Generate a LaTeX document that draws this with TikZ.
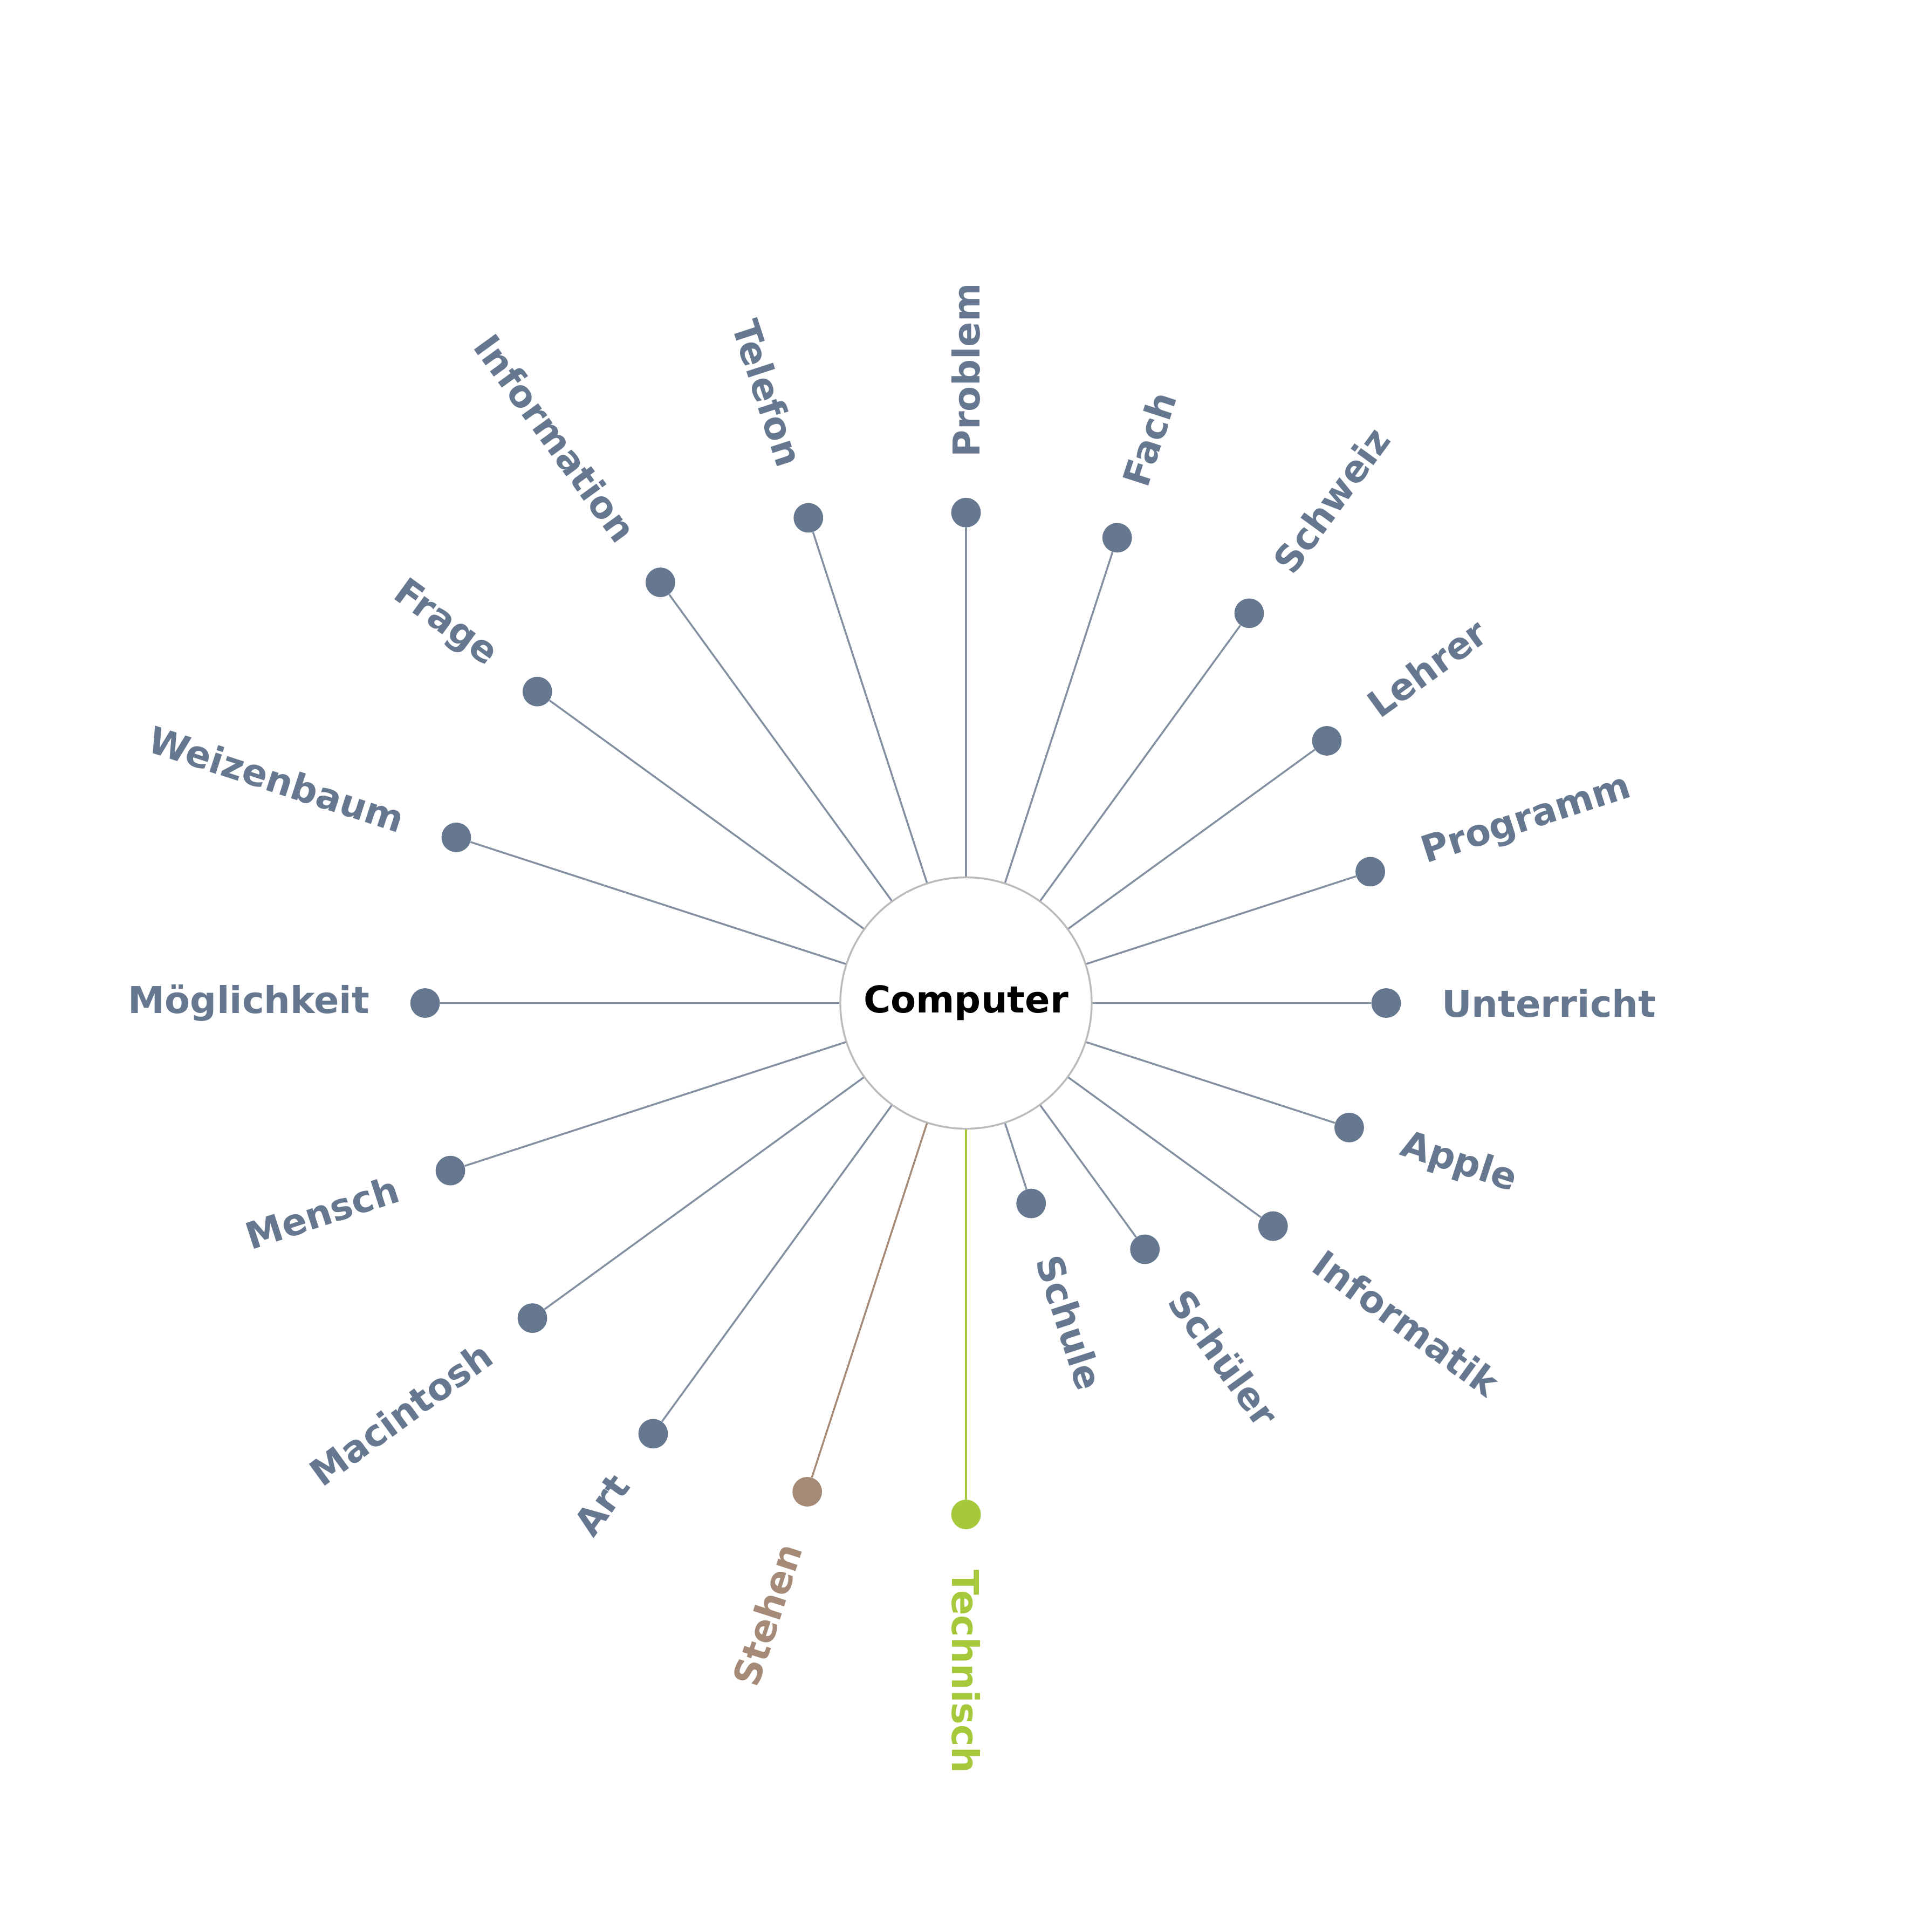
\documentclass[tikz,border=0pt]{standalone}
\usepackage{fontspec}
\setmainfont{DejaVu Sans}
\usetikzlibrary{calc}
\definecolor{slate}{HTML}{667790}
\definecolor{slateline}{HTML}{8390A2}
\definecolor{brownish}{HTML}{A58B77}
\definecolor{limeish}{HTML}{A5C93B}
\definecolor{hubedge}{HTML}{BBBBBB}

\begin{document}
\begin{tikzpicture}[x=1pt,y=1pt]
\tikzset{
  hub/.style={circle,draw=hubedge,line width=1.5pt,fill=white,minimum size=204pt,inner sep=0pt,
    font=\fontsize{30}{34}\selectfont\bfseries},
  dot/.style={circle,fill=#1,minimum size=24pt,inner sep=0pt},
  word/.style={text=#1,font=\fontsize{30}{34}\selectfont\bfseries,inner sep=0pt},
  spoke/.style={draw=#1,line width=1.5pt}
}
\useasboundingbox (0,0) rectangle (1568,1566);

\node[hub] (hub) at (784,752) {Computer};

% word / angle / distance / colour
\foreach \w/\a/\r/\c/\l [count=\i] in {
  Unterricht/0/341/slate/slateline, Programm/18/345/slate/slateline,
  Lehrer/36/362/slate/slateline, Schweiz/54/391/slate/slateline,
  Fach/72/397/slate/slateline, Problem/90/398/slate/slateline,
  Telefon/108/414/slate/slateline, Information/126/422/slate/slateline,
  Frage/144/430/slate/slateline, Weizenbaum/162/435/slate/slateline,
  Möglichkeit/180/439/slate/slateline, Mensch/198/440/slate/slateline,
  Macintosh/216/435/slate/slateline, Art/234/432/slate/slateline,
  Stehen/252/417/brownish/brownish, Technisch/270/415/limeish/limeish,
  Schule/288/171/slate/slateline, Schüler/306/247/slate/slateline,
  Informatik/324/308/slate/slateline, Apple/342/327/slate/slateline}
{
  \node[dot=\c] (d\i) at ($(hub.center)+(\a:\r)$) {};
  \draw[spoke=\l] (hub.\a) -- (d\i);
  \pgfmathtruncatemacro\leftside{(\a>90)&&(\a<270)}
  \ifnum\leftside=1
    \node[word=\c,rotate=\a-180,anchor=east] (w\i) at ($(d\i)+(\a:45)$) {\w};
  \else
    \node[word=\c,rotate=\a,anchor=west] (w\i) at ($(d\i)+(\a:45)$) {\w};
  \fi
}
\end{tikzpicture}
\end{document}
